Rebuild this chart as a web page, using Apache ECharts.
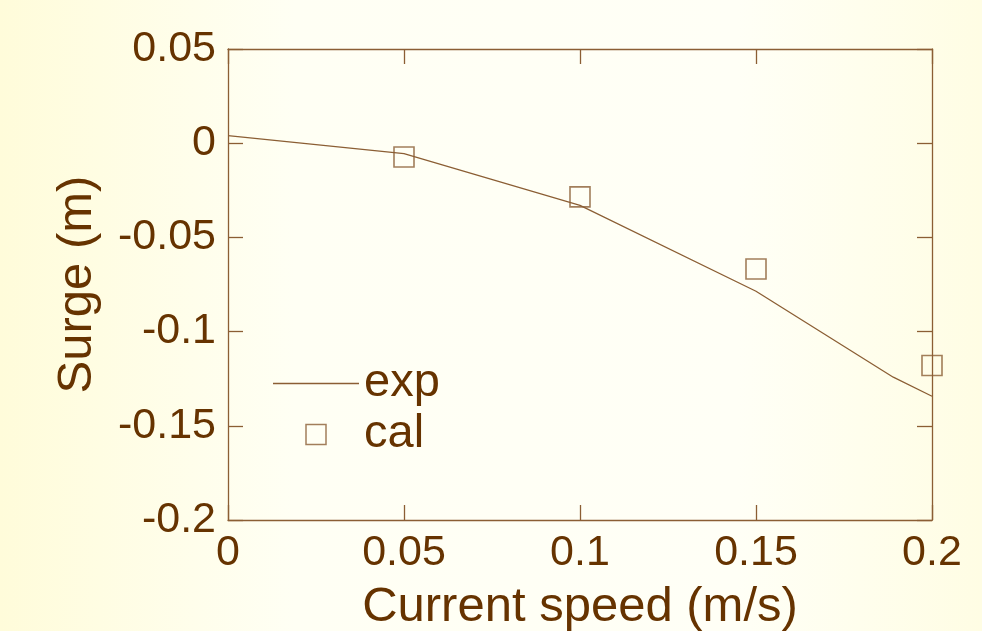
<!DOCTYPE html>
<html>
<head>
<meta charset="utf-8">
<script src="https://cdn.jsdelivr.net/npm/echarts@6/dist/echarts.min.js"></script>
<style>
  html, body { margin: 0; padding: 0; }
  #main { width: 982px; height: 631px; }
</style>
</head>
<body>
<div id="main"></div>
<script>
// 数据
var expSpeed = [0, 0.05, 0.1, 0.15, 0.189, 0.2];
var expSurge = [0.004, -0.0055, -0.033, -0.0786, -0.1242, -0.1343];
var calSpeed = [0.05, 0.1, 0.15, 0.2];
var calSurge = [-0.0073, -0.0285, -0.0668, -0.118];

var textColor = '#663300';
var lineColor = '#8b5e34';
var font = 'Liberation Sans, Arial, sans-serif';

var expData = expSpeed.map(function (x, i) { return [x, expSurge[i]]; });
var calData = calSpeed.map(function (x, i) { return [x, calSurge[i]]; });

var chart = echarts.init(document.getElementById('main'));

// 坐标轴公共样式
var xBase = {
  type: 'value', min: 0, max: 0.2, interval: 0.05,
  axisLine: { show: true, onZero: false, lineStyle: { color: lineColor, width: 1.3 } },
  axisTick: { show: true, inside: true, length: 15, lineStyle: { color: lineColor, width: 1.3 } },
  splitLine: { show: false }
};
var yBase = {
  type: 'value', min: -0.2, max: 0.05, interval: 0.05,
  axisLine: { show: true, onZero: false, lineStyle: { color: lineColor, width: 1.3 } },
  axisTick: { show: true, inside: true, length: 15, lineStyle: { color: lineColor, width: 1.3 } },
  splitLine: { show: false }
};

chart.setOption({
  backgroundColor: {
    type: 'linear', x: 0, y: 0, x2: 1, y2: 0,
    colorStops: [
      { offset: 0, color: '#fffcda' },
      { offset: 0.3, color: '#fffff4' },
      { offset: 0.75, color: '#fffff6' },
      { offset: 1, color: '#fffde4' }
    ]
  },
  animation: false,
  grid: { left: 228, right: 50, top: 49, bottom: 111, outerBoundsMode: 'none', containLabel: false },
  legend: {
    orient: 'vertical',
    left: 268,
    top: 355,
    itemWidth: 86,
    itemHeight: 20,
    itemGap: 4,
    data: [
      { name: 'exp', icon: 'path://M0,0L86,0L86,1.3L0,1.3Z',
        itemStyle: { color: lineColor, borderWidth: 0 } },
      { name: 'cal', icon: 'path://M0,0L20,0L20,20L0,20Z',
        itemStyle: { color: 'transparent', borderColor: lineColor, borderWidth: 1.5 } }
    ],
    textStyle: { color: textColor, fontSize: 47, fontFamily: font, lineHeight: 47 }
  },
  xAxis: [
    Object.assign({}, xBase, {
      position: 'bottom',
      name: 'Current speed (m/s)',
      nameLocation: 'middle',
      nameGap: 63,
      nameTextStyle: { color: textColor, fontSize: 49, fontFamily: font },
      axisLabel: { color: textColor, fontSize: 43, fontFamily: font, margin: 12 }
    }),
    Object.assign({}, xBase, { position: 'top', axisLabel: { show: false } })
  ],
  yAxis: [
    Object.assign({}, yBase, {
      position: 'left',
      name: 'Surge (m)',
      nameLocation: 'middle',
      nameGap: 126,
      nameRotate: 90,
      nameTextStyle: { color: textColor, fontSize: 49, fontFamily: font },
      axisLabel: { color: textColor, fontSize: 43, fontFamily: font, margin: 12 }
    }),
    Object.assign({}, yBase, { position: 'right', axisLabel: { show: false } })
  ],
  series: [
    {
      name: 'exp',
      type: 'line',
      data: expData,
      showSymbol: false,
      symbol: 'none',
      lineStyle: { color: lineColor, width: 1.3 },
      itemStyle: { color: lineColor }
    },
    {
      name: 'cal',
      type: 'scatter',
      data: calData,
      symbol: 'rect',
      symbolSize: 20,
      itemStyle: { color: 'transparent', borderColor: lineColor, borderWidth: 1.6 }
    }
  ]
});
</script>
</body>
</html>
